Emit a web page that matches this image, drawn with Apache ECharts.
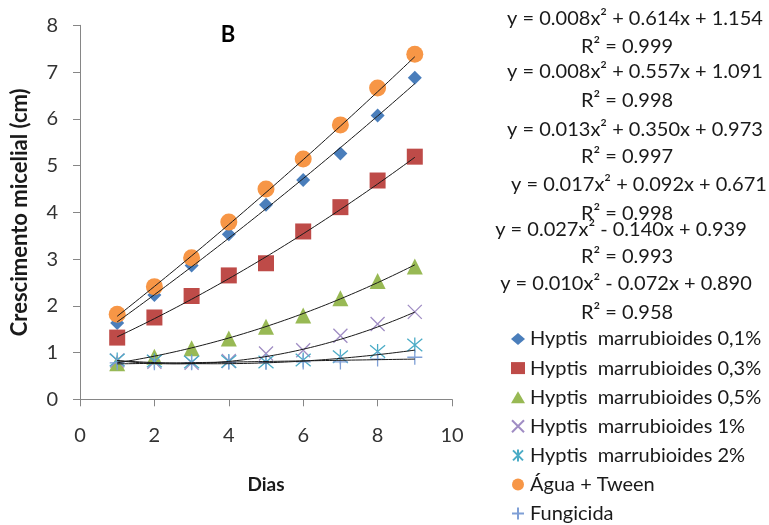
<!DOCTYPE html>
<html>
<head>
<meta charset="utf-8">
<script src="https://cdn.jsdelivr.net/npm/echarts@6/dist/echarts.min.js"></script>
<style>
  html, body { margin: 0; padding: 0; background: #fff; }
  #chart { width: 769px; height: 525px; }
</style>
</head>
<body>
<div id="chart"></div>
<script>
const days = [1, 2, 3, 4, 5, 6, 7, 8, 9];

const seriesNames = [
  "Hyptis  marrubioides 0,1%",
  "Hyptis  marrubioides 0,3%",
  "Hyptis  marrubioides 0,5%",
  "Hyptis  marrubioides 1%",
  "Hyptis  marrubioides 2%",
  "Água + Tween",
  "Fungicida"
];

const hm01 = [1.63, 2.23, 2.86, 3.53, 4.16, 4.69, 5.26, 6.07, 6.88];
const hm03 = [1.32, 1.75, 2.21, 2.65, 2.91, 3.59, 4.11, 4.68, 5.19];
const hm05 = [0.77, 0.91, 1.09, 1.30, 1.55, 1.79, 2.16, 2.53, 2.84];
const hm1 = [0.83, 0.80, 0.78, 0.82, 0.98, 1.05, 1.36, 1.61, 1.87];
const hm2 = [0.84, 0.82, 0.80, 0.81, 0.80, 0.84, 0.91, 1.02, 1.16];
const aguaTween = [1.82, 2.41, 3.03, 3.79, 4.50, 5.14, 5.87, 6.66, 7.38];
const fungicida = [0.78, 0.78, 0.78, 0.79, 0.79, 0.80, 0.80, 0.86, 0.90];

// trend line coefficients [a, b, c] as printed: y = a x^2 + b x + c
const trendHm01 = [0.008, 0.557, 1.091];
const trendHm03 = [0.013, 0.350, 0.973];
const trendHm05 = [0.017, 0.092, 0.671];
const trendHm1 = [0.027, -0.140, 0.939];
const trendHm2 = [0.010, -0.072, 0.890];
const trendAgua = [0.008, 0.614, 1.154];

const equationLabels = [
  "y = 0.008x² + 0.614x + 1.154", "R² = 0.999",
  "y = 0.008x² + 0.557x + 1.091", "R² = 0.998",
  "y = 0.013x² + 0.350x + 0.973", "R² = 0.997",
  "y = 0.017x² + 0.092x + 0.671", "R² = 0.998",
  "y = 0.027x² - 0.140x + 0.939", "R² = 0.993",
  "y = 0.010x² - 0.072x + 0.890", "R² = 0.958"
];

const FONT = "Lato";

function trendPoints(coef) {
  const pts = [];
  for (let i = 0; i <= 80; i++) {
    const x = 1 + i * 0.1;
    pts.push([x, coef[0] * x * x + coef[1] * x + coef[2]]);
  }
  return pts;
}

// least squares line for the series that has no printed equation
function linearFit(values) {
  const n = days.length;
  const mx = days.reduce((a, v) => a + v, 0) / n;
  const my = values.reduce((a, v) => a + v, 0) / n;
  let sxy = 0, sxx = 0;
  days.forEach((x, i) => { sxy += (x - mx) * (values[i] - my); sxx += (x - mx) * (x - mx); });
  const b = sxy / sxx;
  return [0, b, my - b * mx];
}

const pathX = "path://M0,0L10,10M10,0L0,10";
const pathStar = "path://M0,0L10,10M10,0L0,10M5,-1L5,11";
const pathPlus = "path://M5,0L5,10M0,5L10,5";

function scatter(name, values, symbol, size, color, stroked) {
  return {
    name,
    type: "scatter",
    data: days.map((d, i) => [d, values[i]]),
    symbol,
    symbolSize: size,
    itemStyle: stroked
      ? { color: "rgba(0,0,0,0)", borderColor: color, borderWidth: 1.3, opacity: 1 }
      : { color, opacity: 1 },
    z: 2
  };
}

function trend(coef) {
  return {
    type: "line",
    data: trendPoints(coef),
    showSymbol: false,
    symbol: "none",
    lineStyle: { color: "#1a1a1a", width: 1 },
    silent: true,
    z: 3
  };
}

const chart = echarts.init(document.getElementById("chart"));

const eqTops = [19, 47, 72, 101, 130, 157, 185, 214, 230, 257, 284, 313];
const eqCenters = [635, 627, 635, 627, 635, 627, 639, 627, 621, 627, 626, 627];
const eqGraphics = equationLabels.map((t, i) => ({
  type: "text",
  x: eqCenters[i],
  y: eqTops[i],
  style: {
    text: t,
    fontFamily: FONT,
    fontSize: 20,
    fill: "#1a1a1a",
    align: "center",
    verticalAlign: "middle"
  }
}));

chart.setOption({
  animation: false,
  backgroundColor: "#fff",
  grid: { left: 80, right: 317, top: 25.3, bottom: 125.7 },
  xAxis: {
    type: "value",
    min: 0,
    max: 10,
    interval: 2,
    name: "Dias",
    nameLocation: "middle",
    nameGap: 76,
    nameTextStyle: { fontFamily: FONT, fontSize: 19, fontWeight: "bold", color: "#1a1a1a" },
    axisLine: { lineStyle: { color: "#868686" } },
    axisTick: { show: true, length: 7, lineStyle: { color: "#868686" } },
    axisLabel: { fontFamily: FONT, fontSize: 20, color: "#333", margin: 26 },
    splitLine: { show: false }
  },
  yAxis: {
    type: "value",
    min: 0,
    max: 8,
    interval: 1,
    name: "Crescimento micelial (cm)",
    nameLocation: "middle",
    nameGap: 49,
    nameTextStyle: { fontFamily: FONT, fontSize: 22, fontWeight: "bold", color: "#1a1a1a" },
    axisLine: { show: true, lineStyle: { color: "#868686" } },
    axisTick: { show: true, length: 7, lineStyle: { color: "#868686" } },
    axisLabel: { fontFamily: FONT, fontSize: 20, color: "#333", margin: 22 },
    splitLine: { show: false }
  },
  legend: {
    orient: "vertical",
    left: 511,
    top: 329,
    padding: 0,
    itemWidth: 14,
    itemHeight: 12,
    itemGap: 9.1,
    data: seriesNames,
    textStyle: { fontFamily: FONT, fontSize: 20, color: "#1a1a1a", lineHeight: 20 }
  },
  graphic: [
    {
      type: "text",
      x: 228,
      y: 35,
      style: {
        text: "B",
        fontFamily: FONT,
        fontSize: 22,
        fontWeight: "bold",
        fill: "#000",
        align: "center",
        verticalAlign: "middle"
      }
    },
    ...eqGraphics
  ],
  series: [
    scatter(seriesNames[0], hm01, "diamond", 14, "#4a7ebb", false),
    scatter(seriesNames[1], hm03, "rect", 16, "#be4b48", false),
    scatter(seriesNames[2], hm05, "triangle", 16, "#98b954", false),
    scatter(seriesNames[3], hm1, pathX, 14, "#a08dc4", true),
    scatter(seriesNames[4], hm2, pathStar, 15, "#4bacc6", true),
    scatter(seriesNames[5], aguaTween, "circle", 17, "#f79646", false),
    scatter(seriesNames[6], fungicida, pathPlus, 15, "#7f9fd6", true),
    trend(trendHm01),
    trend(trendHm03),
    trend(trendHm05),
    trend(trendHm1),
    trend(trendHm2),
    trend(trendAgua),
    trend(linearFit(fungicida))
  ]
});
</script>
</body>
</html>
